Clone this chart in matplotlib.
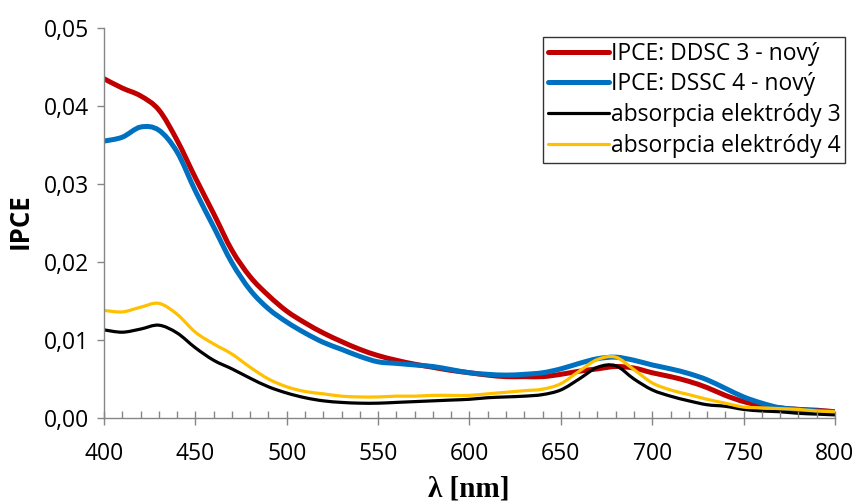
import matplotlib
matplotlib.use("Agg")
import matplotlib.pyplot as plt
from matplotlib.lines import Line2D
from matplotlib.patches import PathPatch
from matplotlib.path import Path
from matplotlib.ticker import FuncFormatter, MultipleLocator

# vlnova dlzka [nm]
wavelength = [400, 410, 420, 430, 440, 450, 460, 470, 480, 490,
              500, 510, 520, 530, 540, 550, 560, 570, 580, 590,
              600, 610, 620, 630, 640, 650, 660, 670, 680, 690,
              700, 710, 720, 730, 740, 750, 760, 770, 780, 790, 800]

ipce_ddsc3 = [0.0435, 0.0423, 0.0413, 0.0395, 0.0356, 0.0308, 0.0262, 0.0215, 0.0181, 0.0157,
              0.0137, 0.0122, 0.0109, 0.0098, 0.0088, 0.0080, 0.0074, 0.0069, 0.0065, 0.0061,
              0.0058, 0.0055, 0.0053, 0.0053, 0.0053, 0.0056, 0.0060, 0.0063, 0.0066, 0.0064,
              0.0058, 0.0053, 0.0047, 0.0039, 0.0029, 0.0021, 0.0016, 0.0013, 0.0011, 0.0010, 0.0008]

ipce_dssc4 = [0.0355, 0.0360, 0.0373, 0.0369, 0.0341, 0.0291, 0.0245, 0.0199, 0.0164, 0.0140,
              0.0123, 0.0109, 0.0097, 0.0088, 0.0079, 0.0072, 0.0070, 0.0068, 0.0066, 0.0062,
              0.0058, 0.0056, 0.0055, 0.0056, 0.0058, 0.0063, 0.0070, 0.0076, 0.0078, 0.0074,
              0.0068, 0.0063, 0.0057, 0.0049, 0.0038, 0.0027, 0.0019, 0.0013, 0.0011, 0.0009, 0.0008]

abs_el3 = [0.0113, 0.0110, 0.0114, 0.0119, 0.0109, 0.0090, 0.0074, 0.0063, 0.0051, 0.0040,
           0.0032, 0.0026, 0.0022, 0.0020, 0.0019, 0.0019, 0.0020, 0.0021, 0.0022, 0.0023,
           0.0024, 0.0026, 0.0027, 0.0028, 0.0030, 0.0036, 0.0050, 0.0065, 0.0067, 0.0050,
           0.0036, 0.0028, 0.0022, 0.0017, 0.0015, 0.0011, 0.0009, 0.0008, 0.0006, 0.0005, 0.0004]

abs_el4 = [0.0138, 0.0136, 0.0142, 0.0147, 0.0133, 0.0110, 0.0095, 0.0082, 0.0065, 0.0050,
           0.0040, 0.0034, 0.0031, 0.0028, 0.0027, 0.0027, 0.0028, 0.0028, 0.0029, 0.0029,
           0.0029, 0.0031, 0.0033, 0.0035, 0.0037, 0.0044, 0.0060, 0.0075, 0.0078, 0.0062,
           0.0045, 0.0036, 0.0030, 0.0024, 0.0019, 0.0014, 0.0013, 0.0012, 0.0011, 0.0009, 0.0008]

labels = ["IPCE: DDSC 3 - nový", "IPCE: DSSC 4 - nový",
          "absorpcia elektródy 3", "absorpcia elektródy 4"]


def smooth_path(x, y):  # vyhladena ciara ako v Exceli (Catmull-Rom -> Bezier)
    n = len(x)
    verts = [(x[0], y[0])]
    codes = [Path.MOVETO]
    for i in range(n - 1):
        i0 = max(i - 1, 0)
        i3 = min(i + 2, n - 1)
        c1 = (x[i] + (x[i + 1] - x[i0]) / 6, y[i] + (y[i + 1] - y[i0]) / 6)
        c2 = (x[i + 1] - (x[i3] - x[i]) / 6, y[i + 1] - (y[i3] - y[i]) / 6)
        verts += [c1, c2, (x[i + 1], y[i + 1])]
        codes += [Path.CURVE4] * 3
    return Path(verts, codes)


plt.rcParams["font.family"] = ["Open Sans", "DejaVu Sans"]

fig = plt.figure(figsize=(8.57, 5.04), dpi=100)
ax = fig.add_axes([104 / 857, 1 - 418 / 504, (835 - 104) / 857, (418 - 28) / 504])

series = [ipce_ddsc3, ipce_dssc4, abs_el3, abs_el4]
colors = ["#C00000", "#0070C0", "black", "#FFC000"]
widths = [3.6, 3.6, 2.3, 2.3]
handles = []
for vals, col, lw, lab in zip(series, colors, widths, labels):
    ax.add_patch(PathPatch(smooth_path(wavelength, vals), fill=False, edgecolor=col,
                           lw=lw, capstyle="round", joinstyle="round"))
    handles.append(Line2D([], [], color=col, lw=lw, solid_capstyle="round", label=lab))

ax.set_xlim(400, 800)
ax.set_ylim(0, 0.05)
ax.xaxis.set_major_locator(MultipleLocator(50))
ax.xaxis.set_minor_locator(MultipleLocator(10))
ax.yaxis.set_major_locator(MultipleLocator(0.01))
ax.yaxis.set_major_formatter(FuncFormatter(lambda v, p: f"{v:.2f}".replace(".", ",")))

for side in ["top", "right"]:
    ax.spines[side].set_visible(False)
for side in ["left", "bottom"]:
    ax.spines[side].set_color("#868686")
    ax.spines[side].set_linewidth(1.0)

ax.tick_params(axis="x", which="major", direction="inout", length=10, width=1,
               color="#868686", labelsize=16.5, pad=12)
ax.tick_params(axis="x", which="minor", direction="in", length=5, width=1, color="#868686")
ax.tick_params(axis="y", which="major", direction="out", length=5, width=1,
               color="#868686", labelsize=16.5, pad=6)

fig.text(469 / 857, 1 - 489 / 504, "λ [nm]", family=["Liberation Serif", "DejaVu Serif"],
         fontsize=21, fontweight="bold", ha="center", va="center")
fig.text(20 / 857, 1 - 221 / 504, "IPCE", fontsize=18.5, fontweight="bold",
         rotation=90, ha="center", va="center")

leg = fig.legend(handles=handles, loc="upper left", bbox_to_anchor=(543 / 857, 1 - 37 / 504),
                 fontsize=16.5, frameon=True, fancybox=False, handlelength=2.7,
                 handletextpad=0.05, borderpad=0.2, labelspacing=0.3, borderaxespad=0)
leg.get_frame().set_edgecolor("black")
leg.get_frame().set_linewidth(1.0)

fig.savefig("out.png", dpi=100)
